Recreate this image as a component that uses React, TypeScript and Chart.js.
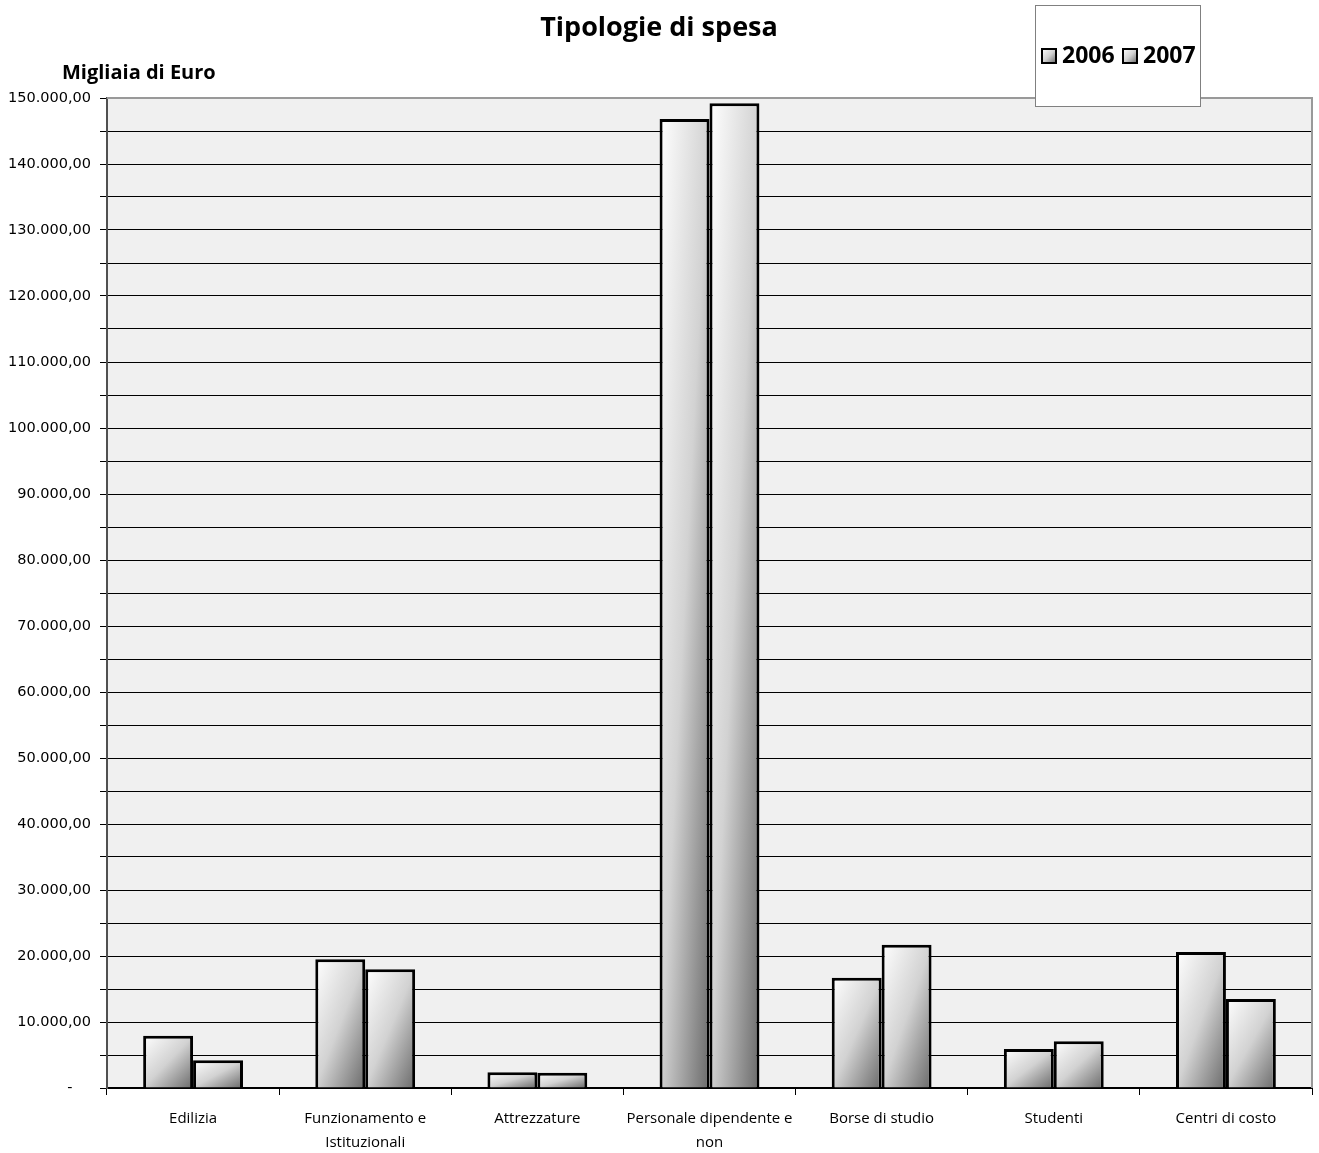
import React, { useEffect, useRef } from 'react';
import { Chart, registerables } from 'chart.js';

Chart.register(...registerables);

const categories: string[][] = [
  ['Edilizia'],
  ['Funzionamento e', 'Istituzionali'],
  ['Attrezzature'],
  ['Personale dipendente e', 'non'],
  ['Borse di studio'],
  ['Studenti'],
  ['Centri di costo'],
];
const values2006 = [7900, 19500, 2400, 146800, 16700, 5900, 20600];
const values2007 = [4200, 18000, 2300, 149200, 21700, 7100, 13500];
const seriesLabels = ['2006', '2007'];
const yMin = 0;
const yMax = 150000;
const yStep = 5000;
const yLabelStep = 10000;
const titleText = 'Tipologie di spesa';
const yTitleText = 'Migliaia di Euro';

const formatIt = (v: number): string => {
  if (v === 0) return '-    ';
  const s = Math.round(v).toString().replace(/\B(?=(\d{3})+(?!\d))/g, '.');
  return s + ',00';
};

const makeGradient = (ctx: CanvasRenderingContext2D, left: number, top: number, w: number, h: number) => {
  const cx = left + w / 2;
  const cy = top + h / 2;
  const norm = Math.sqrt(w * w + h * h) || 1;
  const dx = h / norm;
  const dy = w / norm;
  const L = (w * h) / norm;
  const g = ctx.createLinearGradient(cx - dx * L, cy - dy * L, cx + dx * L, cy + dy * L);
  g.addColorStop(0, '#ffffff');
  g.addColorStop(0.5, '#d2d2d2');
  g.addColorStop(1, '#6a6a6a');
  return g;
};

const decorPlugin = {
  id: 'decor',
  beforeDraw(chart: any) {
    const { ctx, chartArea } = chart;
    ctx.save();
    ctx.fillStyle = '#f0f0f0';
    ctx.fillRect(chartArea.left, chartArea.top, chartArea.right - chartArea.left, chartArea.bottom - chartArea.top);
    ctx.restore();
  },
  beforeDatasetsDraw(chart: any) {
    const ctx = chart.ctx;
    chart.data.datasets.forEach((_: any, i: number) => {
      const meta = chart.getDatasetMeta(i);
      meta.data.forEach((el: any) => {
        const p = el.getProps(['x', 'y', 'base', 'width'], true);
        const left = p.x - p.width / 2;
        const top = Math.min(p.y, p.base);
        const h = Math.abs(p.base - p.y);
        el.options = Object.assign(Object.create(Object.getPrototypeOf(el.options)), el.options, {
          backgroundColor: makeGradient(ctx, left, top, p.width, h),
        });
      });
    });
  },
  afterDraw(chart: any) {
    const { ctx, chartArea } = chart;
    ctx.save();
    ctx.strokeStyle = '#999999';
    ctx.lineWidth = 2;
    ctx.beginPath();
    ctx.moveTo(chartArea.left, chartArea.top);
    ctx.lineTo(chartArea.right, chartArea.top);
    ctx.lineTo(chartArea.right, chartArea.bottom);
    ctx.stroke();

    ctx.fillStyle = '#000';
    ctx.textAlign = 'center';
    ctx.textBaseline = 'middle';
    ctx.font = 'bold 27px "Open Sans", "DejaVu Sans", sans-serif';
    ctx.fillText(titleText, 659, 28);

    ctx.textAlign = 'left';
    ctx.font = 'bold 20px "Open Sans", "DejaVu Sans", sans-serif';
    ctx.fillText(yTitleText, 62, 73);

    const bx = 1035, by = 5, bw = 165, bh = 101;
    ctx.fillStyle = '#ffffff';
    ctx.fillRect(bx, by, bw, bh);
    ctx.strokeStyle = '#808080';
    ctx.lineWidth = 1;
    ctx.strokeRect(bx + 0.5, by + 0.5, bw, bh);
    ctx.font = 'bold 23px "Open Sans", "DejaVu Sans", sans-serif';
    ctx.textBaseline = 'middle';
    const items = [
      { sx: 1042, tx: 1062, label: seriesLabels[0] },
      { sx: 1123, tx: 1143, label: seriesLabels[1] },
    ];
    items.forEach((it) => {
      const sy = 49;
      ctx.fillStyle = makeGradient(ctx, it.sx, sy, 14, 14);
      ctx.fillRect(it.sx, sy, 14, 14);
      ctx.strokeStyle = '#000';
      ctx.lineWidth = 2;
      ctx.strokeRect(it.sx, sy, 14, 14);
      ctx.fillStyle = '#000';
      ctx.fillText(it.label, it.tx, 56);
    });
    ctx.restore();
  },
};

export default function App() {
  const canvasRef = useRef<HTMLCanvasElement | null>(null);

  useEffect(() => {
    document.body.style.margin = '0';
    document.body.style.background = '#ffffff';
    const canvas = canvasRef.current;
    if (!canvas) return;
    const chart = new Chart(canvas, {
      type: 'bar',
      data: {
        labels: categories,
        datasets: [
          {
            label: seriesLabels[0],
            data: values2006,
            backgroundColor: () => '#dddddd',
            borderColor: '#000000',
            borderWidth: 3,
          },
          {
            label: seriesLabels[1],
            data: values2007,
            backgroundColor: () => '#bbbbbb',
            borderColor: '#000000',
            borderWidth: 3,
          },
        ],
      },
      options: {
        responsive: false,
        animation: false,
        maintainAspectRatio: false,
        layout: { padding: { top: 98, right: 7, left: 0, bottom: 0 } },
        plugins: {
          legend: { display: false },
          title: { display: false },
          tooltip: { enabled: false },
        },
        datasets: {
          bar: {
            categoryPercentage: 0.58,
            barPercentage: 1.0,
          },
        },
        scales: {
          x: {
            offset: true,
            grid: {
              display: true,
              offset: true,
              drawOnChartArea: false,
              drawTicks: true,
              tickLength: 7,
              color: '#000000',
            },
            border: { display: true, color: '#000000', width: 2 },
            ticks: {
              color: '#000000',
              padding: 12,
              maxRotation: 0,
              autoSkip: false,
              font: { family: '"Open Sans", "DejaVu Sans", sans-serif', size: 15, lineHeight: 1.6 },
            },
            afterFit: (s: any) => {
              s.height = 65;
            },
          },
          y: {
            min: yMin,
            max: yMax,
            grid: {
              color: (c: any) => (c.tick && c.tick.value === yMax ? 'rgba(0,0,0,0)' : '#000000'),
              tickColor: '#000000',
              lineWidth: 1,
              drawTicks: true,
              tickLength: 7,
            },
            border: { display: true, color: '#505050', width: 2 },
            ticks: {
              stepSize: yStep,
              autoSkip: false,
              color: '#000000',
              padding: 9,
              font: { family: '"DejaVu Sans", sans-serif', size: 14.5 },
              callback: (v: any) => (Number(v) % yLabelStep === 0 ? formatIt(Number(v)) : ''),
            },
            afterFit: (s: any) => {
              s.width = 107;
            },
          },
        },
      },
      plugins: [decorPlugin],
    } as any);
    return () => chart.destroy();
  }, []);

  return (
    <div style={{ width: 1319, height: 1153, background: '#ffffff' }}>
      <canvas ref={canvasRef} width={1319} height={1153} style={{ display: 'block', width: 1319, height: 1153 }} />
    </div>
  );
}
